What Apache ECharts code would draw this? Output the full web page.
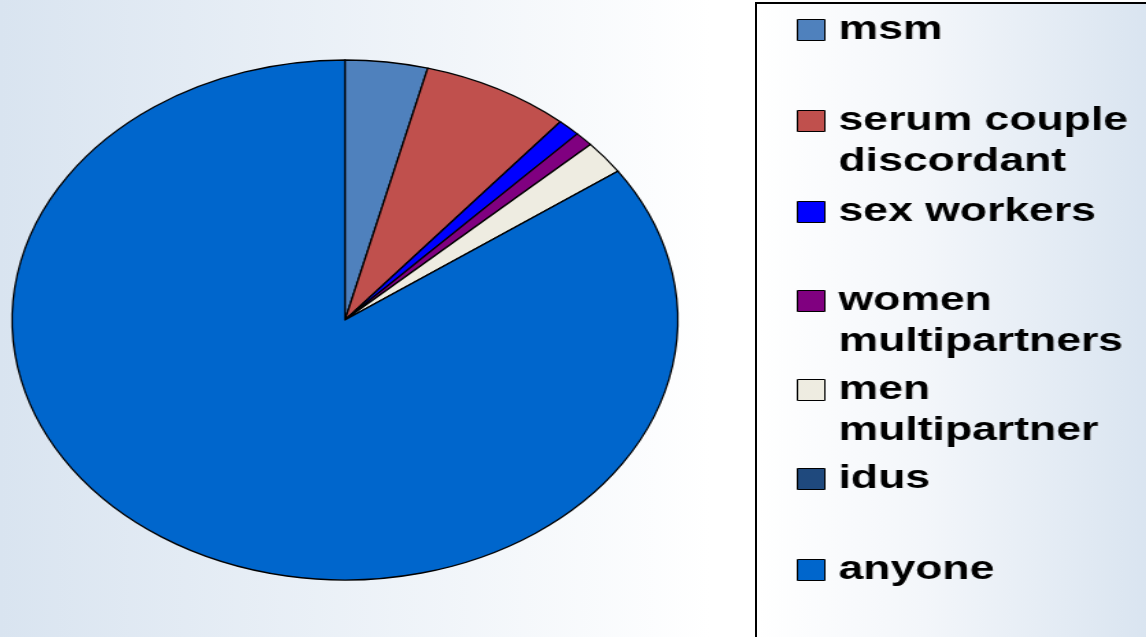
<!DOCTYPE html>
<html>
<head>
<meta charset="utf-8">
<script src="https://cdn.jsdelivr.net/npm/echarts@6/dist/echarts.min.js"></script>
<style>
  html, body { margin: 0; padding: 0; width: 1146px; height: 637px; overflow: hidden; }
  body { background: linear-gradient(to right, #d9e4f0 0%, #ffffff 62%, #ffffff 100%); position: relative; }
  #pie { position: absolute; left: 0; top: 0; width: 600px; height: 637px; transform: scaleX(1.28); transform-origin: 0 0; }
  #box { position: absolute; left: 755px; top: 2px; width: 420px; height: 700px; border-left: 2px solid #000; border-top: 2px solid #000;
         background: linear-gradient(to right, #ffffff 0%, #f3f6fa 40%, #d6e2ef 100%); }
  #leg { position: absolute; left: 757px; top: 0; width: 290px; height: 637px; transform: scaleX(1.37); transform-origin: 0 0; }
</style>
</head>
<body>
<div id="pie"></div>
<div id="box"></div>
<div id="leg"></div>
<script>
// ---- data ----
const categories = ['msm', 'serum couple discordant', 'sex workers', 'women multipartners', 'men multipartner', 'idus', 'anyone'];
const legendLabels = ['msm', 'serum couple\ndiscordant', 'sex workers', 'women\nmultipartners', 'men\nmultipartner', 'idus', 'anyone'];
const values = [4.0, 7.2, 1.1, 0.9, 2.1, 0, 84.7];
const colors = ['#4F81BD', '#C0504D', '#0000FF', '#800080', '#EEECE1', '#1F497D', '#0066CC'];

const seriesData = categories.map((c, i) => ({ name: c, value: values[i], itemStyle: { color: colors[i] } }));

// ---- pie ----
const pieChart = echarts.init(document.getElementById('pie'), null, { renderer: 'canvas' });
pieChart.setOption({
  animation: false,
  series: [{
    type: 'pie',
    center: [269.5, 320],
    radius: [0, 260],
    startAngle: 90,
    clockwise: true,
    label: { show: false },
    labelLine: { show: false },
    emphasis: { disabled: true },
    itemStyle: { borderColor: '#000', borderWidth: 1.3 },
    data: seriesData
  }]
});

// ---- legend ----
const centers = [30, 121, 212, 301, 390, 479, 570];
const LH = 41;
const legends = categories.map((c, i) => {
  const parts = legendLabels[i].split('\n');
  // pad with blank lines on top so the first line sits level with the icon
  const padded = parts.length > 1 ? Array(parts.length - 1).fill(' ').concat(parts) : parts;
  const boxH = padded.length * LH;
  return {
    orient: 'vertical',
    left: 29,
    top: centers[i] - boxH / 2,
    padding: 0,
    selectedMode: false,
    itemWidth: 20,
    itemHeight: 21,
    icon: 'rect',
    itemStyle: { borderColor: '#000', borderWidth: 1 },
    data: [c],
    formatter: () => padded.join('\n'),
    textStyle: {
      fontFamily: 'Liberation Sans, Arial, sans-serif',
      fontWeight: 'bold',
      fontSize: 32.5,
      lineHeight: LH,
      color: '#000',
      padding: [0, 0, 0, 5]
    }
  };
});
const legChart = echarts.init(document.getElementById('leg'), null, { renderer: 'canvas' });
legChart.setOption({
  animation: false,
  legend: legends,
  series: [{
    type: 'pie',
    center: [-1000, -1000],
    radius: [0, 1],
    silent: true,
    label: { show: false },
    labelLine: { show: false },
    itemStyle: { borderColor: '#000', borderWidth: 1 },
    data: seriesData
  }]
});
</script>
</body>
</html>
